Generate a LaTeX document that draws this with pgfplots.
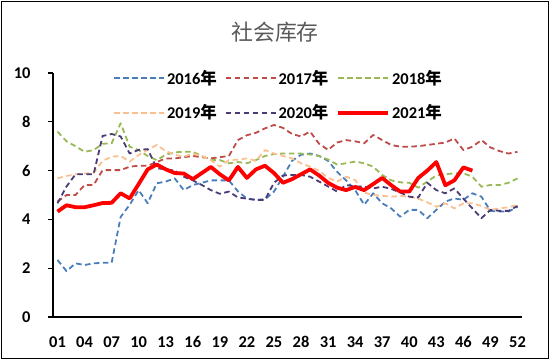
\documentclass[border=0pt]{standalone}
\usepackage{fontspec}
\setmainfont{Carlito}
\newfontfamily\cjk{Noto Sans CJK SC}
\usepackage{pgfplots}
\pgfplotsset{compat=1.18}
\definecolor{cA}{RGB}{74,126,187}
\definecolor{cB}{RGB}{190,75,72}
\definecolor{cC}{RGB}{152,185,84}
\definecolor{cD}{RGB}{250,192,144}
\definecolor{cE}{RGB}{75,60,120}
\definecolor{cF}{RGB}{255,0,0}
\definecolor{titlegray}{RGB}{89,89,89}
\newcommand{\nian}{{\cjk\bfseries 年}}
\begin{document}
\begin{tikzpicture}[x=1bp,y=1bp]
\useasboundingbox (0,0) rectangle (550,360);
\draw[line width=1.6bp,black] (1.5,1.5) rectangle (548.5,358.5);
\node[text=titlegray,font=\cjk\fontsize{22}{24}\selectfont] at (275,328) {社会库存};
\begin{axis}[
  at={(53bp,43bp)}, anchor=south west,
  scale only axis, width=469bp, height=244bp,
  xmin=0.5, xmax=52.5, ymin=0, ymax=10,
  axis x line*=bottom, axis y line*=left,
  axis line style={line width=1.1bp, -},
  xtick={1,4,...,52},
  xticklabels={01,04,07,10,13,16,19,22,25,28,31,34,37,40,43,46,49,52},
  major x tick style={draw=none},
  extra x ticks={5.5,10.5,...,50.5},
  extra x tick labels={},
  extra x tick style={tick align=inside, major tick length=4.5bp, tick style={line width=1.1bp,black}},
  ytick={0,2,...,10},
  tick align=outside,
  major tick length=5bp,
  tick style={line width=1.1bp,black},
  tick label style={font=\fontsize{16.5}{18}\selectfont\bfseries},
  /pgf/number format/assume math mode=true,
  yticklabel style={anchor=east, xshift=-14bp},
  xticklabel style={anchor=north, yshift=-11bp},
  clip=false,
  every axis plot/.append style={line join=round},
  legend columns=3,
  legend cell align=left,
  legend style={draw=none, fill=none, at={(0.128,1.051)}, anchor=north west,
    font=\fontsize{16.5}{18}\selectfont\bfseries,
    nodes={inner ysep=9.5bp},
    /tikz/every even column/.append style={column sep=6bp},
    inner sep=0pt},
  legend image code/.code={\draw[#1] (0bp,0bp) -- (50bp,0bp);},
]
\addplot[color=cA, line width=1.8bp, dash pattern=on 5.5bp off 3.5bp] coordinates {
(1,2.34)(2,1.88)(3,2.2)(4,2.13)(5,2.2)(6,2.22)(7,2.22)(8,4.1)(9,4.6)(10,5.2)
(11,4.66)(12,5.48)(13,5.55)(14,5.68)(15,5.2)(16,5.41)(17,5.5)(18,5.6)(19,5.6)(20,5.6)
(21,5.15)(22,4.85)(23,4.8)(24,4.82)(25,5.14)(26,5.75)(27,6.4)(28,6.65)(29,6.7)(30,6.6)
(31,6.4)(32,5.95)(33,5.6)(34,5.2)(35,4.6)(36,5.07)(37,4.66)(38,4.45)(39,4.11)(40,4.39)
(41,4.39)(42,4.05)(43,4.39)(44,4.73)(45,4.86)(46,4.8)(47,5.07)(48,4.93)(49,4.35)(50,4.32)
(51,4.32)(52,4.52)};
\addlegendentry{2016\nian}
\addplot[color=cB, line width=1.8bp, dash pattern=on 5.5bp off 3.5bp] coordinates {
(1,4.73)(2,5.0)(3,5.0)(4,5.41)(5,5.41)(6,6.02)(7,6.02)(8,6.02)(9,6.16)(10,6.2)
(11,6.2)(12,6.35)(13,6.5)(14,6.5)(15,6.55)(16,6.6)(17,6.55)(18,6.5)(19,6.55)(20,6.6)
(21,7.25)(22,7.45)(23,7.55)(24,7.73)(25,7.87)(26,7.75)(27,7.5)(28,7.4)(29,7.6)(30,7.1)
(31,6.85)(32,7.15)(33,7.25)(34,7.2)(35,7.12)(36,7.46)(37,7.25)(38,7.05)(39,6.98)(40,6.98)
(41,7.0)(42,7.05)(43,7.1)(44,7.15)(45,7.32)(46,6.84)(47,6.98)(48,7.25)(49,6.95)(50,6.8)
(51,6.7)(52,6.77)};
\addlegendentry{2017\nian}
\addplot[color=cC, line width=1.8bp, dash pattern=on 5.5bp off 3.5bp] coordinates {
(1,7.6)(2,7.2)(3,7.0)(4,6.77)(5,6.84)(6,7.1)(7,7.12)(8,7.94)(9,6.98)(10,6.84)
(11,6.6)(12,6.43)(13,6.65)(14,6.75)(15,6.77)(16,6.77)(17,6.6)(18,6.43)(19,6.43)(20,6.3)
(21,6.35)(22,6.3)(23,6.43)(24,6.6)(25,6.68)(26,6.7)(27,6.7)(28,6.7)(29,6.66)(30,6.6)
(31,6.45)(32,6.25)(33,6.3)(34,6.37)(35,6.3)(36,6.16)(37,5.82)(38,5.6)(39,5.52)(40,5.5)
(41,5.3)(42,5.55)(43,5.8)(44,5.85)(45,5.89)(46,5.89)(47,5.75)(48,5.34)(49,5.41)(50,5.41)
(51,5.5)(52,5.68)};
\addlegendentry{2018\nian}
\addplot[color=cD, line width=1.8bp, dash pattern=on 5.5bp off 3.5bp] coordinates {
(1,5.68)(2,5.78)(3,5.85)(4,5.88)(5,5.9)(6,6.4)(7,6.57)(8,6.6)(9,6.37)(10,6.64)
(11,6.85)(12,7.05)(13,6.8)(14,6.65)(15,6.57)(16,6.7)(17,6.6)(18,6.43)(19,6.16)(20,6.43)
(21,6.45)(22,6.5)(23,6.4)(24,6.84)(25,6.7)(26,6.6)(27,6.5)(28,6.3)(29,6.16)(30,6.0)
(31,5.7)(32,5.55)(33,5.75)(34,5.61)(35,5.1)(36,5.0)(37,4.97)(38,4.93)(39,4.96)(40,4.93)
(41,4.85)(42,4.7)(43,4.52)(44,4.66)(45,4.45)(46,4.66)(47,4.66)(48,4.55)(49,4.39)(50,4.45)
(51,4.5)(52,4.59)};
\addlegendentry{2019\nian}
\addplot[color=cE, line width=1.8bp, dash pattern=on 5.5bp off 3.5bp] coordinates {
(1,4.66)(2,5.35)(3,5.85)(4,5.85)(5,5.85)(6,7.42)(7,7.5)(8,7.4)(9,6.7)(10,6.85)
(11,6.88)(12,6.1)(13,6.05)(14,6.0)(15,5.75)(16,5.6)(17,5.41)(18,5.2)(19,5.05)(20,5.14)
(21,4.9)(22,4.85)(23,4.8)(24,4.8)(25,5.5)(26,5.8)(27,5.82)(28,5.82)(29,5.75)(30,5.55)
(31,5.35)(32,5.14)(33,5.41)(34,5.35)(35,5.34)(36,5.27)(37,5.34)(38,5.25)(39,5.1)(40,4.93)
(41,4.9)(42,5.5)(43,5.2)(44,5.07)(45,5.27)(46,4.85)(47,4.45)(48,4.05)(49,4.39)(50,4.35)
(51,4.35)(52,4.55)};
\addlegendentry{2020\nian}
\addplot[color=cF, line width=3.8bp] coordinates {
(1,4.32)(2,4.58)(3,4.5)(4,4.5)(5,4.58)(6,4.67)(7,4.68)(8,5.07)(9,4.86)(10,5.45)
(11,6.05)(12,6.25)(13,6.05)(14,5.9)(15,5.88)(16,5.65)(17,5.9)(18,6.15)(19,5.85)(20,5.6)
(21,6.15)(22,5.7)(23,6.05)(24,6.2)(25,5.9)(26,5.5)(27,5.65)(28,5.85)(29,6.05)(30,5.8)
(31,5.5)(32,5.3)(33,5.2)(34,5.33)(35,5.2)(36,5.45)(37,5.7)(38,5.4)(39,5.14)(40,5.14)
(41,5.7)(42,6.0)(43,6.35)(44,5.4)(45,5.6)(46,6.13)(47,6.0)};
\addlegendentry{2021\nian}
\end{axis}
\end{tikzpicture}
\end{document}
